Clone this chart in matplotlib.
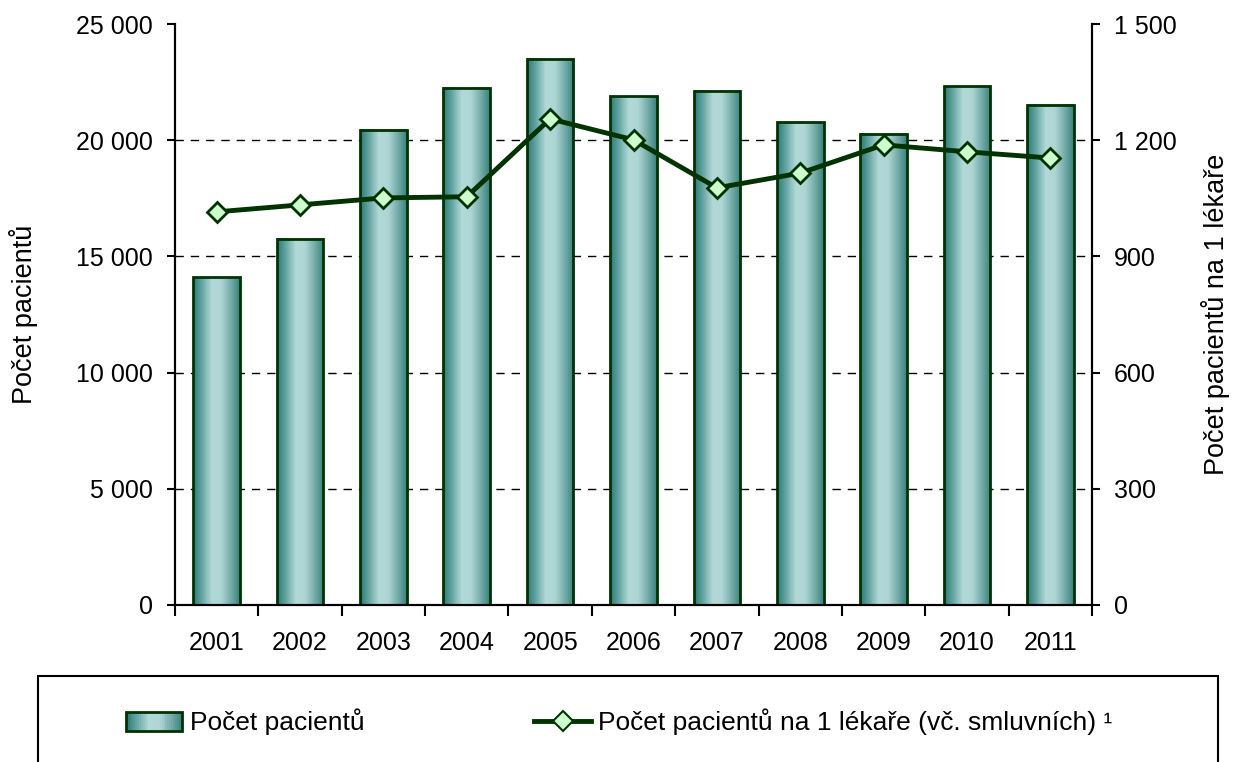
import matplotlib.pyplot as plt
import numpy as np
from matplotlib.colors import LinearSegmentedColormap
from matplotlib.legend_handler import HandlerBase
from matplotlib.patches import Rectangle
from matplotlib.ticker import FuncFormatter

plt.rcParams['font.family'] = ['Liberation Sans', 'DejaVu Sans']

years = ['2001', '2002', '2003', '2004', '2005', '2006', '2007', '2008', '2009', '2010', '2011']
pacienti = [14100, 15750, 20450, 22250, 23500, 21900, 22120, 20780, 20270, 22330, 21520]
na_lekare = [1015, 1033, 1051, 1054, 1255, 1201, 1077, 1115, 1188, 1170, 1154]

label_bar = 'Počet pacientů'
label_right = 'Počet pacientů na 1 lékaře'
label_line = 'Počet pacientů na 1 lékaře (vč. smluvních) ¹'

dark = '#003300'
fs = 18
fs_lab = 19.5
fs_leg = 19
grad = LinearSegmentedColormap.from_list(
    'g', [(0, '#2a7a76'), (0.2, '#6aa9a6'), (0.4, '#b2d9d8'), (0.6, '#aed6d5'),
          (0.85, '#6aa4a1'), (1, '#3a827e')])
grad_img = np.linspace(0, 1, 64).reshape(1, -1)


def fmt(v, pos):
    return f'{int(v):,}'.replace(',', ' ')


fig = plt.figure(figsize=(12.33, 7.62), dpi=100)
ax = fig.add_axes([175 / 1233, 1 - 605 / 762, (1092 - 175) / 1233, (605 - 24) / 762])
ax2 = ax.twinx()

x = np.arange(len(years))
bars = ax.bar(x, pacienti, width=0.56, facecolor='none', edgecolor=dark, linewidth=2, zorder=3)
for b in bars:
    x0, y0, w, h = b.get_x(), b.get_y(), b.get_width(), b.get_height()
    ax.imshow(grad_img, cmap=grad, aspect='auto', extent=(x0, x0 + w, y0, y0 + h),
              interpolation='bicubic', zorder=2)

ax.set_xlim(-0.5, len(years) - 0.5)
ax.set_ylim(0, 25000)
ax.set_yticks(np.arange(0, 25001, 5000))
ax.yaxis.set_major_formatter(FuncFormatter(fmt))
ax.set_xticks(np.arange(-0.5, len(years), 1))
ax.set_xticklabels([])
ax.set_xticks(x, minor=True)
ax.set_xticklabels(years, minor=True)
ax.tick_params(axis='x', which='major', direction='out', length=8, width=1.5)
ax.tick_params(axis='x', which='minor', length=0, pad=19, labelsize=fs)
ax.tick_params(axis='y', direction='out', length=6, width=1.5, pad=10, labelsize=fs)
for y in [5000, 10000, 15000, 20000]:
    ax.axhline(y, color='black', linestyle=(0, (6, 5)), linewidth=1.0, zorder=1)
ax.set_ylabel(label_bar, fontsize=fs_lab, labelpad=27)

ax2.plot(x, na_lekare, color=dark, linewidth=3.5, marker='D', markersize=10,
         markerfacecolor='#ccffcc', markeredgecolor=dark, markeredgewidth=2, zorder=5)
ax2.set_ylim(0, 1500)
ax2.set_yticks(np.arange(0, 1501, 300))
ax2.yaxis.set_major_formatter(FuncFormatter(fmt))
ax2.tick_params(axis='y', direction='out', length=6, width=1.5, pad=10, labelsize=fs)
ax2.set_ylabel(label_right, fontsize=fs_lab, labelpad=17)

for a in (ax, ax2):
    a.spines['top'].set_visible(False)
    for s in ('left', 'right', 'bottom'):
        a.spines[s].set_linewidth(1.5)


class GradHandler(HandlerBase):
    def create_artists(self, legend, orig, xd, yd, w, h, fontsize, trans):
        arts = []
        n = 30
        for i in range(n):
            r = Rectangle((xd + w * i / n, yd), w / n + 0.3, h, facecolor=grad(i / (n - 1)),
                          edgecolor='none', transform=trans)
            arts.append(r)
        arts.append(Rectangle((xd, yd), w, h, facecolor='none', edgecolor=dark,
                              linewidth=2, transform=trans))
        return arts


handle_line = plt.Line2D([], [], color=dark, linewidth=3.5, marker='D', markersize=10,
                         markerfacecolor='#ccffcc', markeredgecolor=dark, markeredgewidth=1.5)
fig.legend([bars, handle_line], [label_bar, label_line], handler_map={type(bars): GradHandler()},
           loc='center left', bbox_to_anchor=(102 / 1233, 1 - 722 / 762), ncol=2,
           frameon=False, fontsize=fs_leg, handlelength=2.15, handleheight=0.68,
           handletextpad=0.27, columnspacing=6.45)
fig.patches.append(Rectangle((38 / 1233, -0.02), (1218 - 38) / 1233, 0.02 + (762 - 676) / 762,
                             transform=fig.transFigure, facecolor='none', edgecolor='black',
                             linewidth=1.5))

fig.savefig('out.png', dpi=100)
